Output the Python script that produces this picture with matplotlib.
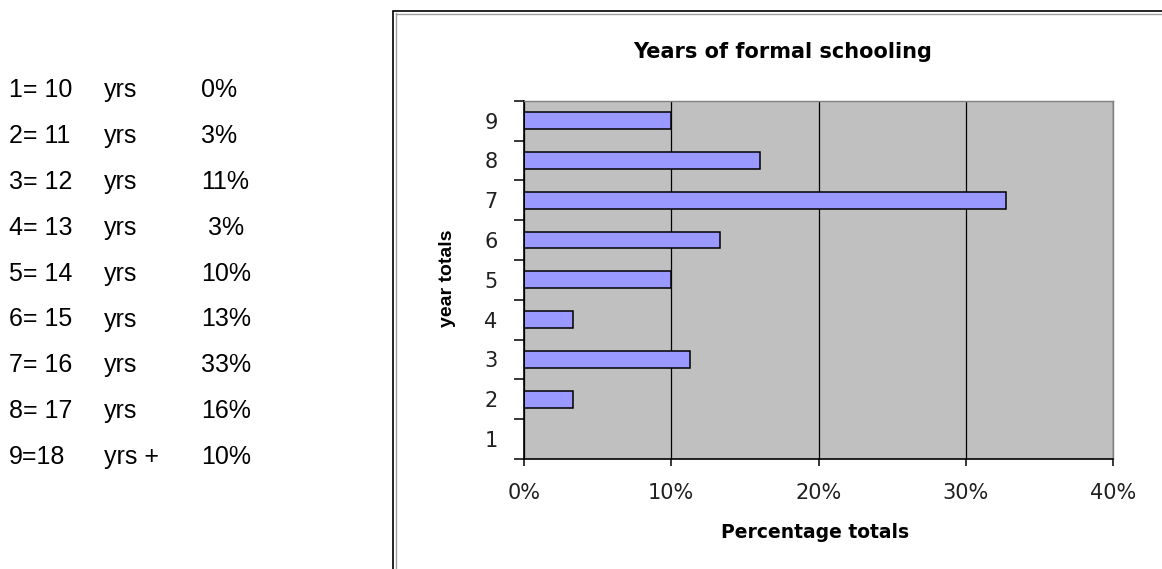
import matplotlib
matplotlib.use("Agg")
import matplotlib.pyplot as plt
from matplotlib.patches import Rectangle
from matplotlib.lines import Line2D

# data
categories = [1, 2, 3, 4, 5, 6, 7, 8, 9]
percent = [0, 3.3, 11.3, 3.3, 10, 13.3, 32.7, 16, 10]
xticks = [0, 10, 20, 30, 40]
xtick_labels = ["0%", "10%", "20%", "30%", "40%"]

key_codes = ["1= 10", "2= 11", "3= 12", "4= 13", "5= 14", "6= 15", "7= 16", "8= 17", "9=18"]
key_units = ["yrs", "yrs", "yrs", "yrs", "yrs", "yrs", "yrs", "yrs", "yrs +"]
key_pcts = ["0%", "3%", "11%", " 3%", "10%", "13%", "33%", "16%", "10%"]

W, H = 1162, 569
fig = plt.figure(figsize=(W / 100, H / 100), dpi=100)

# outer chart frame
fig.add_artist(Rectangle((393 / W, -0.05), (W + 20 - 393) / W, 1.05 - 11 / H,
                         transform=fig.transFigure, fill=False,
                         edgecolor="black", linewidth=1.2))
fig.add_artist(Line2D([395.5 / W, 395.5 / W], [0, 1 - 13 / H], transform=fig.transFigure,
                      color="#a0a0a0", linewidth=1))
fig.add_artist(Line2D([395.5 / W, 1], [1 - 13.5 / H, 1 - 13.5 / H], transform=fig.transFigure,
                      color="#a0a0a0", linewidth=1))

ax = fig.add_axes([524 / W, 1 - 459 / H, (1113 - 524) / W, (459 - 100.7) / H])
ax.set_facecolor("#c0c0c0")
ax.set_axisbelow(True)
ax.barh(categories, percent, height=0.42, color="#9999ff", edgecolor="black", linewidth=1.1)

ax.set_xlim(0, 40)
ax.set_ylim(0.5, 9.5)
ax.set_xticks(xticks)
ax.set_xticklabels(xtick_labels)
ax.set_yticks(categories)
ax.set_yticks([c - 0.5 for c in categories] + [9.5], minor=True)
ax.tick_params(axis="y", which="major", length=0, pad=19, labelsize=15)
ax.tick_params(axis="y", which="minor", length=7.5, width=1.1, direction="out")
ax.tick_params(axis="x", length=5, width=1.1, pad=12, labelsize=15)
for lab in ax.get_xticklabels() + ax.get_yticklabels():
    lab.set_color("#202020")

ax.xaxis.grid(True, color="black", linewidth=0.9)
ax.spines["left"].set_linewidth(1.2)
ax.spines["bottom"].set_linewidth(1.2)
ax.spines["top"].set_color("#808080")
ax.spines["right"].set_color("#808080")
ax.spines["top"].set_linewidth(1)
ax.spines["right"].set_linewidth(1)

fig.text(783 / W, 1 - 52 / H, "Years of formal schooling", ha="center", va="center",
         fontsize=15, fontweight="bold")
fig.text(815 / W, 1 - 532 / H, "Percentage totals", ha="center", va="center",
         fontsize=13.5, fontweight="bold")
fig.text(448 / W, 1 - 278 / H, "year totals", ha="center", va="center", rotation=90,
         fontsize=14, fontweight="bold", family=["Liberation Sans Narrow", "Liberation Sans"])

# key on the left
for i in range(len(key_codes)):
    yb = 1 - (97 + i * 45.9) / H
    fig.text(9 / W, yb, key_codes[i], va="baseline", fontsize=18, family="Liberation Sans")
    fig.text(104 / W, yb, key_units[i], va="baseline", fontsize=18, family="Liberation Sans")
    fig.text(201 / W, yb, key_pcts[i], va="baseline", fontsize=18, family="Liberation Sans")

fig.savefig("out.png", dpi=100)
